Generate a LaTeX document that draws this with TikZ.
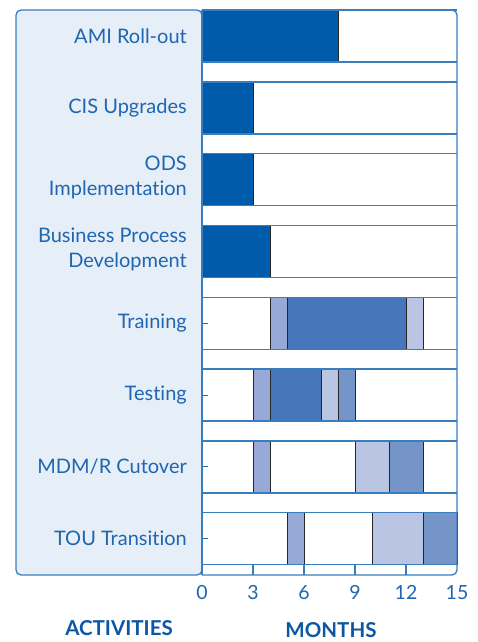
\documentclass[tikz,border=0pt]{standalone}
\usepackage{fontspec}
\setmainfont{Lato}[Ligatures={NoCommon}]
\definecolor{txtblue}{HTML}{1E66B0}
\definecolor{hdblue}{HTML}{0B57A4}
\definecolor{framec}{HTML}{3A7DBF}
\definecolor{panelfill}{HTML}{E6EEF8}
\definecolor{darkbar}{HTML}{005BAA}
\definecolor{cA}{HTML}{97A9D6}
\definecolor{cB}{HTML}{4777BA}
\definecolor{cC}{HTML}{BAC5E3}
\definecolor{cD}{HTML}{7595C9}
\tikzset{
  frameline/.style={draw=framec, line width=1.3pt},
  barbox/.style={draw=black!85, line width=0.8pt},
  lab/.style={anchor=east, align=right, text=txtblue, font=\fontsize{20}{25}\selectfont, inner sep=0pt},
  axnum/.style={text=txtblue, font=\fontsize{19.5}{22}\selectfont, inner sep=0pt},
  head/.style={text=hdblue, font=\bfseries\fontsize{20.5}{22}\selectfont, inner sep=0pt},
}
\begin{document}
\begin{tikzpicture}[x=1pt,y=-1pt]
\useasboundingbox (0,0) rectangle (477,642);
% left panel
\filldraw[fill=panelfill, frameline, rounded corners=5] (202,10) -- (16,10) -- (16,575) -- (202,575) -- cycle;
% row layout: tops
\def\rowtops{10,81.9,153.7,225.5,297.3,369.1,440.9,512.7}
% rows 1-4 dark bars
\foreach \t/\e in {10/8, 81.9/3, 153.7/3, 225.5/4}{
  \filldraw[fill=darkbar, barbox] (202,\t) rectangle ({202+17*\e},{\t+52});
}
% training
\foreach \s/\e/\c in {4/5/cA, 5/12/cB, 12/13/cC}{
  \filldraw[fill=\c, barbox] ({202+17*\s},297.3) rectangle ({202+17*\e},349.3);
}
% testing
\foreach \s/\e/\c in {3/4/cA, 4/7/cB, 7/8/cC, 8/9/cD}{
  \filldraw[fill=\c, barbox] ({202+17*\s},369.1) rectangle ({202+17*\e},421.1);
}
% MDM/R
\foreach \s/\e/\c in {3/4/cA, 9/11/cC, 11/13/cD}{
  \filldraw[fill=\c, barbox] ({202+17*\s},440.9) rectangle ({202+17*\e},492.9);
}
% TOU
\foreach \s/\e/\c in {5/6/cA, 10/13/cC, 13/15/cD}{
  \filldraw[fill=\c, barbox] ({202+17*\s},512.7) rectangle ({202+17*\e},564.7);
}
% row lines
\foreach \t in \rowtops{
  \draw[frameline] (202,\t) -- (457,\t);
  \draw[frameline] (202,{\t+52}) -- (457,{\t+52});
}
% left ticks rows 5-8
\foreach \t in {297.3,369.1,440.9,512.7}{
  \draw[draw=txtblue, line width=1pt] (202,{\t+26}) -- (208,{\t+26});
}
% chart frame
\draw[frameline, rounded corners=5] (202,10) -- (457,10) -- (457,575) -- (202,575);
\draw[frameline] (202,10) -- (202,575);
% axis ticks
\foreach \m in {3,6,9,12}{
  \draw[frameline] ({202+17*\m},564.7) -- ({202+17*\m},575);
}
% labels
\node[lab] (l1) at (187,36) {AMI Roll-out};
\node[lab] (l2) at (187,107.9) {CIS Upgrades};
\node[lab] (l3) at (187,177.7) {ODS\\Implementation};
\node[lab] (l4) at (187,249.5) {Business Process\\Development};
\node[lab] (l5) at (187,323.3) {Training};
\node[lab] (l6) at (187,395.1) {Testing};
\node[lab] (l7) at (187,466.9) {MDM/R Cutover};
\node[lab] (l8) at (187,538.7) {TOU Transition};
% axis numbers
\foreach \m in {0,3,6,9,12,15}{
  \node[axnum] (n\m) at ({202+17*\m},592.5) {\m};
}
\node[head] (act) at (119,628) {ACTIVITIES};
\node[head] (mon) at (331,630) {MONTHS};
\end{tikzpicture}
\end{document}
